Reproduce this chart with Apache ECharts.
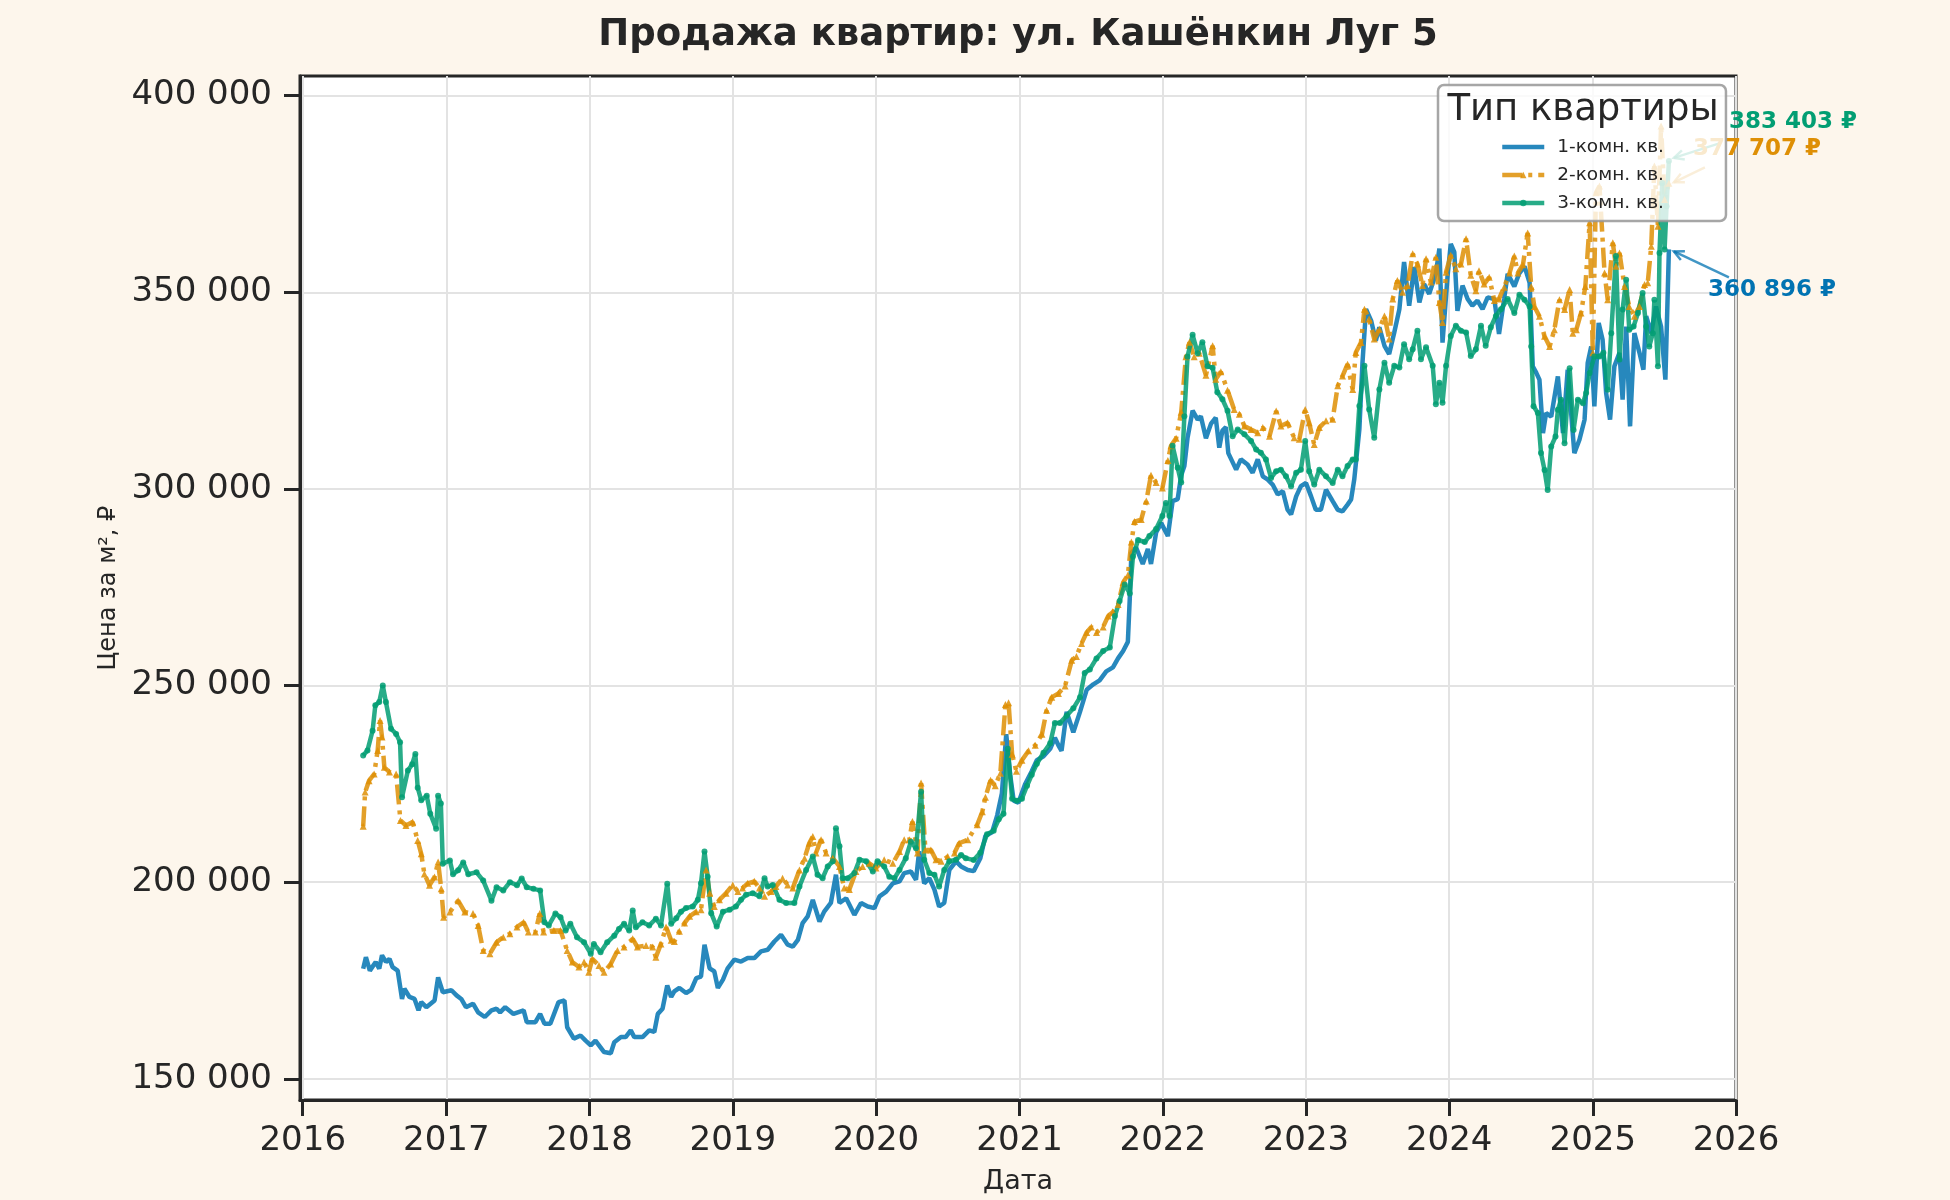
<!DOCTYPE html>
<html>
<head>
<meta charset="utf-8">
<script src="https://cdn.jsdelivr.net/npm/echarts@6/dist/echarts.min.js"></script>
<style>
html, body { margin: 0; padding: 0; background: #fdf6ec; }
#chart { width: 1950px; height: 1200px; }
</style>
</head>
<body>
<div id="chart"></div>
<script>
var seriesNames = ['1-комн. кв.', '2-комн. кв.', '3-комн. кв.'];
var yearTicks = ['2016-01-01', '2017-01-01', '2018-01-01', '2019-01-01', '2020-01-01', '2021-01-01',
    '2022-01-01', '2023-01-01', '2024-01-01', '2025-01-01', '2026-01-01'];
var priceTicks = [150000, 200000, 250000, 300000, 350000, 400000];

// 1-комн.
var oneRoom = [
    ['2016-06-03',178000],['2016-06-10',180900],['2016-06-20',177500],['2016-07-05',179700],['2016-07-14',178000],
    ['2016-07-21',181400],['2016-07-31',179700],['2016-08-09',180500],['2016-08-17',178400],['2016-08-30',177500],
    ['2016-09-10',170300],['2016-09-16',172900],['2016-09-29',170800],['2016-10-12',170300],['2016-10-22',167400],
    ['2016-10-29',169500],['2016-11-11',168200],['2016-12-02',169900],['2016-12-11',175800],['2016-12-23',172000],
    ['2017-01-14',172500],['2017-01-27',171200],['2017-02-08',170300],['2017-02-20',168200],['2017-03-10',169100],
    ['2017-03-23',166900],['2017-04-09',165700],['2017-04-26',167400],['2017-05-09',167800],['2017-05-18',166900],
    ['2017-05-31',168200],['2017-06-21',166500],['2017-07-17',167400],['2017-07-25',164400],['2017-08-16',164400],
    ['2017-08-28',166500],['2017-09-08',164000],['2017-09-23',164000],['2017-10-14',169500],['2017-10-29',169900],
    ['2017-11-05',163100],['2017-11-22',160200],['2017-12-09',161000],['2017-12-22',159700],['2018-01-04',158500],
    ['2018-01-16',159700],['2018-02-07',156800],['2018-02-24',156500],['2018-03-05',159300],['2018-03-22',160600],
    ['2018-04-03',160600],['2018-04-16',162300],['2018-04-25',160600],['2018-05-16',160600],['2018-06-02',162300],
    ['2018-06-15',161900],['2018-06-24',166500],['2018-07-06',167800],['2018-07-18',173700],['2018-07-28',170800],
    ['2018-08-05',172200],['2018-08-18',173100],['2018-09-04',171800],['2018-09-17',172600],['2018-09-30',175600],
    ['2018-10-12',176000],['2018-10-21',184100],['2018-11-03',178100],['2018-11-15',177300],['2018-11-24',173100],
    ['2018-12-07',175200],['2018-12-19',178100],['2019-01-05',180300],['2019-01-22',179800],['2019-02-08',180700],
    ['2019-02-25',180700],['2019-03-14',182400],['2019-03-31',182800],['2019-04-17',184900],['2019-05-04',186600],
    ['2019-05-21',184100],['2019-06-03',183600],['2019-06-16',185300],['2019-06-28',189600],['2019-07-11',191300],
    ['2019-07-24',195500],['2019-08-10',190000],['2019-08-22',192500],['2019-09-08',194700],['2019-09-21',201900],
    ['2019-09-30',194700],['2019-10-17',195900],['2019-11-07',191700],['2019-11-24',194700],['2019-12-11',193800],
    ['2019-12-28',193400],['2020-01-10',196400],['2020-01-27',197600],['2020-02-13',199700],['2020-03-01',200200],
    ['2020-03-13',202300],['2020-03-30',202700],['2020-04-12',200600],['2020-04-20',207800],['2020-05-03',199700],
    ['2020-05-16',201000],['2020-05-29',198100],['2020-06-10',193800],['2020-06-23',194700],['2020-07-06',203100],
    ['2020-07-23',205300],['2020-08-05',204000],['2020-08-22',203100],['2020-09-06',202800],['2020-09-23',206100],
    ['2020-10-06',211800],['2020-10-23',212700],['2020-11-05',217000],['2020-11-17',222600],['2020-11-28',237600],
    ['2020-12-08',227300],['2020-12-17',220700],['2020-12-29',220200],['2021-01-15',224900],['2021-02-01',228200],
    ['2021-02-14',231000],['2021-03-03',232000],['2021-03-20',233900],['2021-04-01',236700],['2021-04-10',234800],
    ['2021-04-18',233400],['2021-05-01',243300],['2021-05-18',238100],['2021-06-04',243300],['2021-06-21',248900],
    ['2021-07-08',250300],['2021-07-24',251300],['2021-08-10',253600],['2021-08-27',254600],['2021-09-09',256900],
    ['2021-09-22',258800],['2021-10-04',261100],['2021-10-09',272400],['2021-10-13',283700],['2021-10-25',285100],
    ['2021-11-11',280900],['2021-11-24',284700],['2021-12-02',280900],['2021-12-15',288900],['2021-12-28',291300],
    ['2022-01-14',288000],['2022-01-26',296900],['2022-02-08',297400],['2022-02-17',303500],['2022-02-25',305800],
    ['2022-03-05',312900],['2022-03-18',319900],['2022-03-31',317600],['2022-04-08',318500],['2022-04-21',312900],
    ['2022-05-04',316600],['2022-05-16',318100],['2022-05-25',310500],['2022-06-02',314800],['2022-06-11',315700],
    ['2022-06-17',309100],['2022-07-07',304900],['2022-07-19',307500],['2022-08-05',306200],['2022-08-18',304100],
    ['2022-08-31',307500],['2022-09-13',303200],['2022-09-25',302400],['2022-10-08',301100],['2022-10-21',298600],
    ['2022-11-03',299400],['2022-11-15',294700],['2022-11-24',293500],['2022-12-07',298100],['2022-12-19',300700],
    ['2023-01-01',301500],['2023-01-14',298100],['2023-01-26',294700],['2023-02-08',294700],['2023-02-21',299800],
    ['2023-03-10',296900],['2023-03-23',294700],['2023-04-04',294300],['2023-04-17',296000],['2023-04-26',297300],
    ['2023-05-04',302400],['2023-05-17',315100],['2023-05-25',332100],['2023-06-03',345700],['2023-06-16',342800],
    ['2023-06-28',337700],['2023-07-07',341100],['2023-07-20',336400],['2023-08-01',334300],['2023-08-14',339800],
    ['2023-08-27',345700],['2023-09-08',357700],['2023-09-21',346600],['2023-10-04',356400],['2023-10-17',347400],
    ['2023-10-29',352100],['2023-11-11',349600],['2023-11-28',354700],['2023-12-07',361100],['2023-12-15',337200],
    ['2023-12-28',354300],['2024-01-05',362300],['2024-01-14',360200],['2024-01-22',345300],['2024-02-04',351700],
    ['2024-02-17',348300],['2024-02-29',346600],['2024-03-13',347900],['2024-03-26',345700],['2024-04-08',348700],
    ['2024-04-25',348300],['2024-05-07',339400],['2024-05-20',348300],['2024-05-29',354700],['2024-06-15',351500],
    ['2024-06-28',354900],['2024-07-11',356600],['2024-07-24',352400],['2024-08-01',331200],['2024-08-10',329500],
    ['2024-08-18',327800],['2024-08-27',314200],['2024-09-04',319300],['2024-09-17',318400],['2024-10-04',328600],
    ['2024-10-17',314200],['2024-10-29',330300],['2024-11-15',309100],['2024-11-28',312500],['2024-12-11',317600],
    ['2024-12-19',332000],['2024-12-28',336200],['2025-01-05',321000],['2025-01-16',342200],['2025-01-26',337900],
    ['2025-02-04',324400],['2025-02-14',317600],['2025-02-25',331200],['2025-03-10',334600],['2025-03-18',322700],
    ['2025-03-27',341300],['2025-04-06',315900],['2025-04-17',339600],['2025-04-30',334600],['2025-05-10',330300],
    ['2025-05-17',343900],['2025-05-30',339600],['2025-06-11',346400],['2025-06-24',341300],['2025-07-05',327800],
    ['2025-07-14',360896]
];

// 2-комн.
var twoRoom = [
    ['2016-06-03',214200],['2016-06-08',222900],['2016-06-18',225800],['2016-07-01',227500],['2016-07-10',233500],
    ['2016-07-16',241100],['2016-07-21',236900],['2016-07-27',229200],['2016-08-09',228000],['2016-08-26',227500],
    ['2016-09-06',215700],['2016-09-20',214400],['2016-10-07',215300],['2016-10-20',210600],['2016-10-29',207200],
    ['2016-11-06',202100],['2016-11-19',199200],['2016-12-02',201300],['2016-12-11',205100],['2016-12-19',198300],
    ['2016-12-25',191100],['2017-01-10',192400],['2017-01-31',195300],['2017-02-17',192400],['2017-03-10',192000],
    ['2017-03-23',189000],['2017-04-05',182600],['2017-04-22',181800],['2017-05-09',184700],['2017-05-26',186000],
    ['2017-06-12',186900],['2017-06-30',188600],['2017-07-17',189800],['2017-07-29',187300],['2017-08-16',187300],
    ['2017-08-27',192000],['2017-09-06',187300],['2017-10-02',187700],['2017-10-19',187700],['2017-11-05',182600],
    ['2017-11-18',179700],['2017-12-05',178400],['2017-12-18',179700],['2017-12-30',177100],['2018-01-08',180500],
    ['2018-01-25',178800],['2018-02-07',177100],['2018-02-24',179200],['2018-03-13',182600],['2018-03-30',183500],
    ['2018-04-21',185600],['2018-05-03',183500],['2018-05-25',183900],['2018-06-11',183500],['2018-06-19',180900],
    ['2018-07-02',184300],['2018-07-15',188600],['2018-07-28',185200],['2018-08-05',184900],['2018-08-18',187500],
    ['2018-08-31',189600],['2018-09-13',191300],['2018-09-30',192500],['2018-10-12',193000],['2018-10-25',203100],
    ['2018-11-03',197200],['2018-11-15',193800],['2018-11-28',195500],['2018-12-15',197200],['2019-01-01',199300],
    ['2019-01-14',197600],['2019-01-26',198500],['2019-02-08',199700],['2019-02-25',200200],['2019-03-10',198500],
    ['2019-03-23',196400],['2019-04-09',197600],['2019-04-21',198900],['2019-05-08',201000],['2019-05-21',199300],
    ['2019-06-03',198500],['2019-06-20',203100],['2019-07-03',206100],['2019-07-15',209900],['2019-07-24',211600],
    ['2019-08-01',207400],['2019-08-14',210800],['2019-08-27',207400],['2019-09-13',206100],['2019-09-30',204000],
    ['2019-10-12',198500],['2019-10-25',198100],['2019-11-11',202700],['2019-11-28',204000],['2019-12-15',204800],
    ['2020-01-01',203600],['2020-01-22',205700],['2020-02-13',204800],['2020-03-01',207800],['2020-03-13',210800],
    ['2020-03-26',210800],['2020-04-03',215400],['2020-04-16',207400],['2020-04-25',225200],['2020-05-06',208200],
    ['2020-05-20',208200],['2020-06-02',205700],['2020-06-15',205300],['2020-07-02',206500],['2020-07-19',207400],
    ['2020-07-31',209900],['2020-08-22',210800],['2020-09-15',214600],['2020-09-28',217900],['2020-10-06',221600],
    ['2020-10-19',225900],['2020-10-31',224500],['2020-11-13',227700],['2020-11-26',245200],['2020-12-04',245600],
    ['2020-12-13',232500],['2020-12-24',228200],['2021-01-07',231000],['2021-01-24',233400],['2021-02-10',234800],
    ['2021-02-27',237600],['2021-03-11',243700],['2021-03-24',247000],['2021-04-10',248000],['2021-04-27',249900],
    ['2021-05-14',256400],['2021-05-26',257400],['2021-06-08',260700],['2021-06-21',263500],['2021-07-03',264900],
    ['2021-07-16',263500],['2021-08-02',264900],['2021-08-15',267700],['2021-08-27',268700],['2021-09-09',270600],
    ['2021-09-22',276200],['2021-10-04',278100],['2021-10-13',286500],['2021-10-21',291700],['2021-11-07',292200],
    ['2021-11-20',296900],['2021-12-02',303500],['2021-12-15',301600],['2021-12-31',300200],['2022-01-14',307200],
    ['2022-01-22',311000],['2022-02-04',312900],['2022-02-17',319500],['2022-03-01',333600],['2022-03-10',337300],
    ['2022-03-22',333600],['2022-04-04',334500],['2022-04-21',328900],['2022-05-08',336400],['2022-05-16',327900],
    ['2022-05-29',329800],['2022-06-15',325100],['2022-07-02',320200],['2022-07-15',319000],['2022-07-28',316000],
    ['2022-08-14',315100],['2022-08-31',314300],['2022-09-13',315600],['2022-09-30',313400],['2022-10-17',319800],
    ['2022-10-29',316000],['2022-11-15',316800],['2022-12-02',313000],['2022-12-15',312600],['2022-12-30',320200],
    ['2023-01-09',316800],['2023-01-22',311300],['2023-02-04',315600],['2023-02-21',317300],['2023-03-10',317700],
    ['2023-03-23',326200],['2023-04-04',328700],['2023-04-17',331700],['2023-04-30',325300],['2023-05-08',334700],
    ['2023-05-21',337200],['2023-05-30',345700],['2023-06-11',343200],['2023-06-24',338100],['2023-07-07',340600],
    ['2023-07-20',344000],['2023-08-01',338100],['2023-08-10',348300],['2023-08-22',353000],['2023-09-04',350000],
    ['2023-09-17',351700],['2023-09-30',359800],['2023-10-12',357200],['2023-10-25',351700],['2023-11-03',358500],
    ['2023-11-15',352600],['2023-11-28',358900],['2023-12-07',347400],['2023-12-15',342300],['2023-12-24',355100],
    ['2024-01-05',359400],['2024-01-18',356000],['2024-01-31',357200],['2024-02-13',363600],['2024-02-25',354300],
    ['2024-03-09',350400],['2024-03-17',355500],['2024-03-30',352100],['2024-04-12',353800],['2024-04-25',347900],
    ['2024-05-07',348300],['2024-05-20',351300],['2024-06-03',354900],['2024-06-15',359200],['2024-06-24',354900],
    ['2024-07-07',357000],['2024-07-19',365100],['2024-07-28',351500],['2024-08-05',346400],['2024-08-18',343900],
    ['2024-08-31',338800],['2024-09-13',336200],['2024-09-25',340500],['2024-10-08',348100],['2024-10-21',345600],
    ['2024-11-03',350700],['2024-11-11',339600],['2024-11-20',340500],['2024-12-02',344700],['2024-12-13',351500],
    ['2024-12-24',367700],['2025-01-01',334600],['2025-01-09',375300],['2025-01-18',377000],['2025-01-31',354900],
    ['2025-02-08',348100],['2025-02-21',362600],['2025-03-01',356600],['2025-03-10',360000],['2025-03-23',351500],
    ['2025-04-04',346400],['2025-04-17',343900],['2025-04-30',346400],['2025-05-13',352000],['2025-05-21',352400],
    ['2025-05-30',361700],['2025-06-07',382100],['2025-06-16',366800],['2025-06-24',392300],['2025-07-03',373600],
    ['2025-07-14',377707]
];

// 3-комн.
var threeRoom = [
    ['2016-06-03',232200],['2016-06-14',233500],['2016-06-27',238500],['2016-07-04',245000],['2016-07-14',245800],
    ['2016-07-23',250000],['2016-07-31',245800],['2016-08-13',239000],['2016-08-26',237700],['2016-09-05',235600],
    ['2016-09-10',221600],['2016-09-25',228400],['2016-10-06',230000],['2016-10-14',232600],['2016-10-20',224000],
    ['2016-10-29',220800],['2016-11-12',222000],['2016-11-21',217400],['2016-12-06',213600],['2016-12-11',222000],
    ['2016-12-18',220000],['2016-12-23',204700],['2017-01-10',205500],['2017-01-18',202000],['2017-01-31',203000],
    ['2017-02-13',205000],['2017-02-26',202000],['2017-03-19',202500],['2017-04-05',200400],['2017-04-26',195300],
    ['2017-05-09',198700],['2017-05-26',197900],['2017-06-12',200000],['2017-06-30',199200],['2017-07-12',200900],
    ['2017-07-25',198700],['2017-08-11',198300],['2017-08-28',197900],['2017-09-08',189800],['2017-09-19',189000],
    ['2017-10-06',192000],['2017-10-19',191100],['2017-11-01',187700],['2017-11-13',189400],['2017-11-30',186000],
    ['2017-12-18',184700],['2018-01-04',181800],['2018-01-12',184300],['2018-01-29',182200],['2018-02-15',184700],
    ['2018-03-05',186400],['2018-03-17',188100],['2018-03-30',189400],['2018-04-12',187700],['2018-04-21',192800],
    ['2018-04-29',188500],['2018-05-16',189800],['2018-06-02',189000],['2018-06-19',190700],['2018-07-02',189000],
    ['2018-07-18',199600],['2018-07-28',189400],['2018-08-10',190800],['2018-08-22',192500],['2018-09-04',193400],
    ['2018-09-21',193800],['2018-10-04',195500],['2018-10-12',199700],['2018-10-21',207800],['2018-10-29',201400],
    ['2018-11-07',192100],['2018-11-21',188700],['2018-12-07',192500],['2018-12-24',193000],['2019-01-09',193800],
    ['2019-01-22',195500],['2019-02-04',196800],['2019-02-21',197200],['2019-03-10',196400],['2019-03-23',201000],
    ['2019-03-31',198900],['2019-04-13',199300],['2019-04-30',195500],['2019-05-17',194700],['2019-06-07',194700],
    ['2019-06-20',198900],['2019-07-07',203100],['2019-07-24',206500],['2019-08-05',201900],['2019-08-18',201000],
    ['2019-08-31',204000],['2019-09-13',205300],['2019-09-21',213700],['2019-09-30',209100],['2019-10-08',201000],
    ['2019-10-21',201000],['2019-11-07',202300],['2019-11-20',205700],['2019-12-07',205300],['2019-12-24',202700],
    ['2020-01-05',205300],['2020-01-22',204000],['2020-02-04',201400],['2020-02-17',201000],['2020-03-01',203100],
    ['2020-03-17',206100],['2020-03-30',210300],['2020-04-12',208600],['2020-04-25',223000],['2020-05-03',205700],
    ['2020-05-16',202300],['2020-05-29',201900],['2020-06-10',198900],['2020-06-23',203100],['2020-07-06',205300],
    ['2020-07-23',205700],['2020-08-05',206900],['2020-08-17',206100],['2020-09-06',205600],['2020-09-23',207500],
    ['2020-10-10',212200],['2020-10-27',213100],['2020-11-09',216000],['2020-11-21',217400],['2020-12-02',233900],
    ['2020-12-13',221200],['2020-12-25',220700],['2021-01-07',221200],['2021-01-20',224500],['2021-02-01',227300],
    ['2021-02-14',230100],['2021-03-03',232900],['2021-03-20',235300],['2021-04-01',240500],['2021-04-14',240500],
    ['2021-05-01',242300],['2021-05-18',244200],['2021-06-04',247000],['2021-06-16',253200],['2021-06-29',254100],
    ['2021-07-16',256900],['2021-08-02',258800],['2021-08-19',259700],['2021-09-01',267700],['2021-09-13',271500],
    ['2021-09-26',275700],['2021-10-09',273400],['2021-10-17',282800],['2021-10-30',287000],['2021-11-16',286500],
    ['2021-11-28',288000],['2021-12-15',289800],['2021-12-31',293100],['2022-01-09',296400],['2022-01-18',293100],
    ['2022-01-26',311000],['2022-02-08',305400],['2022-02-17',301600],['2022-02-25',318500],['2022-03-05',333600],
    ['2022-03-18',339200],['2022-03-31',334500],['2022-04-12',337300],['2022-04-25',331200],['2022-05-08',330800],
    ['2022-05-20',324600],['2022-06-02',322800],['2022-06-15',319900],['2022-06-28',313400],['2022-07-11',315100],
    ['2022-07-28',313900],['2022-08-14',312200],['2022-08-27',310000],['2022-09-08',309200],['2022-09-21',307500],
    ['2022-10-04',302800],['2022-10-17',304500],['2022-10-29',304900],['2022-11-11',303200],['2022-11-24',300700],
    ['2022-12-07',304100],['2022-12-19',304900],['2022-12-30',312200],['2023-01-09',304500],['2023-01-22',301100],
    ['2023-02-04',304900],['2023-02-21',303200],['2023-03-10',301500],['2023-03-23',304900],['2023-04-04',303200],
    ['2023-04-17',305800],['2023-04-30',307500],['2023-05-08',307500],['2023-05-17',321100],['2023-05-30',331300],
    ['2023-06-11',320200],['2023-06-24',313000],['2023-07-07',325300],['2023-07-20',332100],['2023-08-01',327000],
    ['2023-08-14',331300],['2023-08-27',330900],['2023-09-08',336800],['2023-09-21',333000],['2023-09-30',335500],
    ['2023-10-12',340200],['2023-10-21',333000],['2023-11-03',336000],['2023-11-20',331300],['2023-11-28',321500],
    ['2023-12-07',327000],['2023-12-15',321900],['2023-12-24',331300],['2024-01-05',338900],['2024-01-18',341500],
    ['2024-01-31',340200],['2024-02-13',339800],['2024-02-25',333800],['2024-03-09',335500],['2024-03-22',341500],
    ['2024-04-03',336400],['2024-04-16',341100],['2024-04-29',344000],['2024-05-12',345700],['2024-05-29',348300],
    ['2024-06-15',344700],['2024-06-28',349400],['2024-07-11',348100],['2024-07-24',346400],['2024-07-28',336200],
    ['2024-08-03',321000],['2024-08-14',319300],['2024-08-22',309100],['2024-08-31',304800],['2024-09-08',299700],
    ['2024-09-17',310800],['2024-09-28',313300],['2024-10-04',320100],['2024-10-12',322700],['2024-10-21',311600],
    ['2024-11-03',330700],['2024-11-13',315000],['2024-11-24',322700],['2024-12-07',321800],['2024-12-15',324400],
    ['2024-12-24',329500],['2025-01-05',333700],['2025-01-18',333700],['2025-01-28',334600],['2025-02-08',325200],
    ['2025-02-17',339600],['2025-03-01',359200],['2025-03-10',332900],['2025-03-18',345600],['2025-03-27',353200],
    ['2025-04-04',340500],['2025-04-15',341300],['2025-04-26',344700],['2025-05-08',349800],['2025-05-17',341300],
    ['2025-05-25',336200],['2025-06-03',339600],['2025-06-07',348100],['2025-06-16',331200],['2025-06-20',360000],
    ['2025-06-27',377800],['2025-07-03',360900],['2025-07-08',371900],['2025-07-14',383403]
];

var FONT = 'DejaVu Sans';
var INK = '#262626';
var palette = ['#0173B2', '#DE8F05', '#029E73'];
var lineColors = ['rgba(1,115,178,0.85)', 'rgba(222,143,5,0.85)', 'rgba(2,158,115,0.85)'];

function ts(s) {
    var p = s.split('-');
    return new Date(+p[0], +p[1] - 1, +p[2]).getTime();
}

function toPoints(rows) {
    return rows.map(function (r) { return [ts(r[0]), r[1]]; });
}

function fmtPrice(v) {
    return String(v).replace(/\B(?=(\d{3})+(?!\d))/g, ' ');
}

var myChart = echarts.init(document.getElementById('chart'), null, { renderer: 'canvas' });

var option = {
    backgroundColor: '#fdf6ec',
    animation: false,
    grid: {
        left: 300, right: 214, top: 76, bottom: 100,
        show: true,
        backgroundColor: '#ffffff',
        borderColor: INK,
        borderWidth: 3,
        outerBoundsMode: 'none'
    },
    xAxis: {
        type: 'value',
        min: ts('2015-12-25'),
        max: ts('2026-01-01'),
        name: 'Дата',
        nameLocation: 'middle',
        nameGap: 68,
        nameTextStyle: { fontFamily: FONT, fontSize: 27, color: INK },
        axisLine: { show: true, lineStyle: { color: INK, width: 3 } },
        axisTick: { show: true, length: 16, lineStyle: { color: INK, width: 3 }, customValues: yearTicks.map(ts) },
        axisLabel: {
            customValues: yearTicks.map(ts),
            margin: 24,
            fontFamily: FONT, fontSize: 34, color: INK,
            formatter: function (v) { return String(new Date(v).getFullYear()); }
        },
        splitLine: { show: true, lineStyle: { color: '#e3e3e3', width: 2 } }
    },
    yAxis: {
        type: 'value',
        min: 144600,
        max: 405000,
        name: 'Цена за м², ₽',
        nameLocation: 'middle',
        nameGap: 178,
        nameRotate: 90,
        nameTextStyle: { fontFamily: FONT, fontSize: 24, color: INK },
        axisLine: { show: true, lineStyle: { color: INK, width: 3 } },
        axisTick: { show: true, length: 16, lineStyle: { color: INK, width: 3 }, customValues: priceTicks },
        axisLabel: {
            customValues: priceTicks,
            margin: 28,
            fontFamily: FONT, fontSize: 34, color: INK,
            formatter: fmtPrice
        },
        splitLine: { show: true, lineStyle: { color: '#e3e3e3', width: 2 } }
    },
    legend: {
        orient: 'vertical',
        left: 1438,
        top: 85,
        padding: [52, 62, 8, 62],
        itemWidth: 42,
        itemHeight: 8,
        itemGap: 8,
        backgroundColor: 'rgba(255,255,255,0.8)',
        borderColor: 'rgba(150,150,150,0.85)',
        borderWidth: 2.5,
        borderRadius: 6,
        lineStyle: { width: 4.5 },
        textStyle: { fontFamily: FONT, fontSize: 18.5, color: INK, lineHeight: 20, padding: [0, 0, 0, 8] },
        data: [
            { name: seriesNames[0], itemStyle: { color: 'rgba(0,0,0,0)', borderWidth: 0 } },
            { name: seriesNames[1] },
            { name: seriesNames[2] }
        ]
    },
    series: [
        {
            name: seriesNames[0],
            type: 'line',
            data: toPoints(oneRoom),
            symbol: 'none',
            lineStyle: { color: lineColors[0], width: 4.5 },
            itemStyle: { color: lineColors[0] },
            z: 2
        },
        {
            name: seriesNames[1],
            type: 'line',
            data: toPoints(twoRoom),
            symbol: 'triangle',
            symbolSize: 7,
            lineStyle: { color: lineColors[1], width: 4.5, type: [20, 6, 4, 6] },
            itemStyle: { color: lineColors[1] },
            z: 2
        },
        {
            name: seriesNames[2],
            type: 'line',
            data: toPoints(threeRoom),
            symbol: 'circle',
            symbolSize: 6,
            lineStyle: { color: lineColors[2], width: 4.5 },
            itemStyle: { color: lineColors[2] },
            z: 2
        }
    ]
};

myChart.setOption(option);

// подписи последних значений со стрелками
var notes = [
    { data: threeRoom, color: palette[2], dx: 124, dy: -39, sx: 52, sy: -18, ey: -3 },
    { data: twoRoom, color: palette[1], dx: 88, dy: -34, sx: 36, sy: -16, ey: -1 },
    { data: oneRoom, color: palette[0], dx: 103, dy: 41, sx: 60, sy: 28, ey: 2 }
];

function arrow(x1, y1, x2, y2, color) {
    var a = Math.atan2(y2 - y1, x2 - x1), h = 11, w = 0.45;
    return [
        { type: 'line', z: 3, shape: { x1: x1, y1: y1, x2: x2, y2: y2 },
          style: { stroke: color, lineWidth: 2.5, opacity: 0.75 } },
        { type: 'polyline', z: 3,
          shape: { points: [[x2 - h * Math.cos(a - w), y2 - h * Math.sin(a - w)], [x2, y2],
                            [x2 - h * Math.cos(a + w), y2 - h * Math.sin(a + w)]] },
          style: { stroke: color, lineWidth: 2.5, fill: null, opacity: 0.75 } }
    ];
}

var elements = [
    { type: 'text', z: 10, x: 1018, y: 35,
      style: { text: 'Продажа квартир: ул. Кашёнкин Луг 5', font: 'bold 37px "DejaVu Sans"',
               fill: INK, textAlign: 'center', textVerticalAlign: 'middle' } },
    { type: 'text', z: 10, x: 1583, y: 110,
      style: { text: 'Тип квартиры', font: '37px "DejaVu Sans"', fill: INK,
               textAlign: 'center', textVerticalAlign: 'middle' } }
];

notes.forEach(function (n) {
    var last = n.data[n.data.length - 1];
    var p = myChart.convertToPixel({ gridIndex: 0 }, [ts(last[0]), last[1]]);
    elements = elements.concat(arrow(p[0] + n.sx, p[1] + n.sy, p[0] + 5, p[1] + n.ey, n.color));
    elements.push({
        type: 'text', z: 3, x: p[0] + n.dx, y: p[1] + n.dy,
        style: { text: fmtPrice(last[1]) + ' ₽', font: 'bold 23px "DejaVu Sans"', fill: n.color,
                 textAlign: 'center', textVerticalAlign: 'middle' }
    });
});

myChart.setOption({ graphic: { elements: elements } });
</script>
</body>
</html>
